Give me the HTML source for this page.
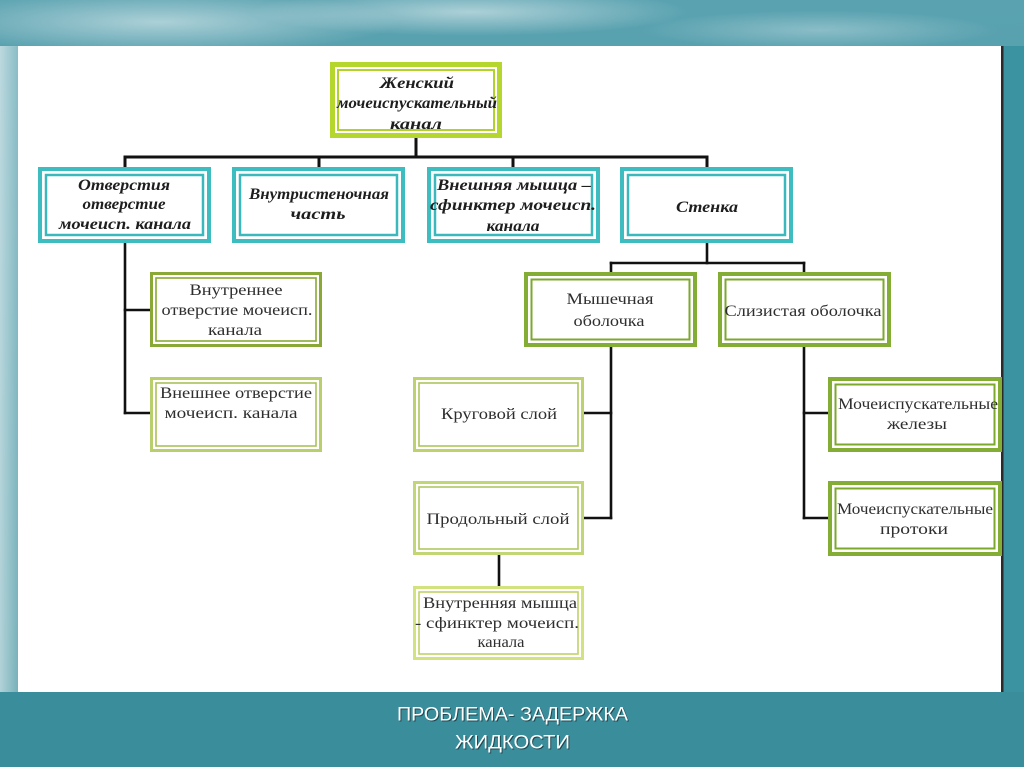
<!DOCTYPE html>
<html>
<head>
<meta charset="utf-8">
<style>
  html,body{margin:0;padding:0;background:#4a98a6;}
  svg{display:block;}
  .it{font-family:"Liberation Serif","DejaVu Serif",serif;font-style:italic;font-weight:bold;font-size:15.5px;fill:#1e1e1e;}
  .rg{font-family:"Liberation Serif","DejaVu Serif",serif;font-size:16px;fill:#2e2e2e;}
  .bt{font-family:"Liberation Sans","DejaVu Sans",sans-serif;font-size:19px;}
</style>
</head>
<body>
<svg width="1024" height="767" viewBox="0 0 1024 767" xmlns="http://www.w3.org/2000/svg">
  <defs>
    <linearGradient id="bg" x1="0" y1="0" x2="0" y2="1">
      <stop offset="0" stop-color="#5aa2b0"/>
      <stop offset="0.5" stop-color="#4a98a6"/>
      <stop offset="1" stop-color="#3a8d9b"/>
    </linearGradient>
    <linearGradient id="lft" x1="0" y1="0" x2="1" y2="0">
      <stop offset="0" stop-color="#ffffff" stop-opacity="0.6"/>
      <stop offset="1" stop-color="#ffffff" stop-opacity="0.3"/>
    </linearGradient>
    <radialGradient id="cl" cx="0.5" cy="0.5" r="0.5">
      <stop offset="0" stop-color="#ffffff" stop-opacity="0.5"/>
      <stop offset="1" stop-color="#ffffff" stop-opacity="0"/>
    </radialGradient>
  </defs>

  <!-- background -->
  <rect x="0" y="0" width="1024" height="767" fill="url(#bg)"/>
  <ellipse cx="160" cy="22" rx="240" ry="32" fill="url(#cl)"/>
  <ellipse cx="470" cy="12" rx="220" ry="24" fill="url(#cl)"/>
  <ellipse cx="820" cy="30" rx="180" ry="20" fill="url(#cl)" opacity="0.6"/>
  <rect x="0" y="46" width="18" height="646" fill="url(#lft)"/>
  <rect x="1003" y="46" width="21" height="646" fill="#3b92a0"/>
  <rect x="0" y="692" width="1024" height="75" fill="#3a8e9c"/>

  <!-- white panel -->
  <rect x="18" y="46" width="985" height="646" fill="#ffffff"/>
  <rect x="1001" y="46" width="2.5" height="646" fill="#2a2a2a"/>

  <!-- connectors -->
  <g stroke="#111" stroke-width="3" fill="none" stroke-linecap="square">
    <line x1="416" y1="138" x2="416" y2="157"/>
    <line x1="125" y1="157" x2="707" y2="157"/>
    <line x1="125" y1="157" x2="125" y2="167"/>
    <line x1="319" y1="157" x2="319" y2="167"/>
    <line x1="513" y1="157" x2="513" y2="167"/>
    <line x1="707" y1="157" x2="707" y2="167"/>
  </g>
  <g stroke="#111" stroke-width="2.6" fill="none" stroke-linecap="square">
    <line x1="125" y1="243" x2="125" y2="413"/>
    <line x1="125" y1="310" x2="150" y2="310"/>
    <line x1="125" y1="413" x2="150" y2="413"/>

    <line x1="707" y1="243" x2="707" y2="263"/>
    <line x1="611" y1="263" x2="804" y2="263"/>
    <line x1="611" y1="263" x2="611" y2="272"/>
    <line x1="804" y1="263" x2="804" y2="272"/>

    <line x1="611" y1="347" x2="611" y2="518"/>
    <line x1="584" y1="413" x2="611" y2="413"/>
    <line x1="584" y1="518" x2="611" y2="518"/>

    <line x1="804" y1="347" x2="804" y2="518"/>
    <line x1="804" y1="413" x2="828" y2="413"/>
    <line x1="804" y1="518" x2="828" y2="518"/>

    <line x1="499" y1="555" x2="499" y2="586"/>
  </g>

  <!-- root box -->
  <rect x="332.5" y="64.5" width="167" height="71" fill="#fff" stroke="#b5d62c" stroke-width="5"/>
  <rect x="338" y="70" width="156" height="60" fill="none" stroke="#b0d22a" stroke-width="2"/>

  <!-- level 1 teal boxes -->
  <g fill="#fff">
    <rect x="40" y="169" width="169" height="72" stroke="#3dbdc0" stroke-width="4"/>
    <rect x="46" y="175" width="157" height="60" fill="none" stroke="#3ab8bb" stroke-width="2.5"/>

    <rect x="234" y="169" width="169" height="72" stroke="#3dbdc0" stroke-width="4"/>
    <rect x="240" y="175" width="157" height="60" fill="none" stroke="#3ab8bb" stroke-width="2.5"/>

    <rect x="429" y="169" width="169" height="72" stroke="#3dbdc0" stroke-width="4"/>
    <rect x="435" y="175" width="157" height="60" fill="none" stroke="#3ab8bb" stroke-width="2.5"/>

    <rect x="622" y="169" width="169" height="72" stroke="#3dbdc0" stroke-width="4"/>
    <rect x="628" y="175" width="157" height="60" fill="none" stroke="#3ab8bb" stroke-width="2.5"/>
  </g>

  <!-- green boxes (darker) -->
  <g fill="#fff">
    <rect x="526" y="274" width="169" height="71" stroke="#84ad36" stroke-width="4"/>
    <rect x="531.5" y="279.5" width="158" height="60" fill="none" stroke="#7ca82c" stroke-width="2"/>

    <rect x="720" y="274" width="169" height="71" stroke="#84ad36" stroke-width="4"/>
    <rect x="725.5" y="279.5" width="158" height="60" fill="none" stroke="#7ca82c" stroke-width="2"/>

    <rect x="830" y="379" width="170" height="71" stroke="#84ad36" stroke-width="4"/>
    <rect x="835.5" y="384.5" width="159" height="60" fill="none" stroke="#7ca82c" stroke-width="2"/>

    <rect x="830" y="483" width="170" height="71" stroke="#84ad36" stroke-width="4"/>
    <rect x="835.5" y="488.5" width="159" height="60" fill="none" stroke="#7ca82c" stroke-width="2"/>
  </g>

  <!-- lighter green boxes -->
  <g fill="#fff">
    <rect x="151.5" y="273.5" width="169" height="72" stroke="#8aa836" stroke-width="3"/>
    <rect x="156" y="278" width="160" height="63" fill="none" stroke="#88a834" stroke-width="1.6"/>

    <rect x="151.5" y="378.5" width="169" height="72" stroke="#b9cf6e" stroke-width="3"/>
    <rect x="156" y="383" width="160" height="63" fill="none" stroke="#a9c25a" stroke-width="1.6"/>

    <rect x="414.5" y="378.5" width="168" height="72" stroke="#bdd26e" stroke-width="3"/>
    <rect x="419" y="383" width="159" height="63" fill="none" stroke="#adc65c" stroke-width="1.6"/>

    <rect x="414.5" y="482.5" width="168" height="71" stroke="#c3d676" stroke-width="3"/>
    <rect x="419" y="487" width="159" height="62" fill="none" stroke="#b0c860" stroke-width="1.6"/>

    <rect x="414.5" y="587.5" width="168" height="71" stroke="#d2e27e" stroke-width="3"/>
    <rect x="419" y="592" width="159" height="62" fill="none" stroke="#bfd468" stroke-width="1.6"/>
  </g>

  <!-- root text -->
  <g class="it" text-anchor="middle">
    <text x="417" y="88" textLength="74" lengthAdjust="spacingAndGlyphs">Женский</text>
    <text x="417" y="108" textLength="160" lengthAdjust="spacingAndGlyphs">мочеиспускательный</text>
    <text x="416" y="129" textLength="52" lengthAdjust="spacingAndGlyphs">канал</text>
  </g>

  <!-- level 1 text -->
  <g class="it" text-anchor="middle">
    <text x="124" y="190" textLength="92" lengthAdjust="spacingAndGlyphs">Отверстия</text>
    <text x="124" y="209" textLength="83" lengthAdjust="spacingAndGlyphs">отверстие</text>
    <text x="125" y="229" textLength="132" lengthAdjust="spacingAndGlyphs">мочеисп. канала</text>

    <text x="319" y="199" textLength="140" lengthAdjust="spacingAndGlyphs">Внутристеночная</text>
    <text x="318" y="219" textLength="55" lengthAdjust="spacingAndGlyphs">часть</text>

    <text x="514" y="190" textLength="154" lengthAdjust="spacingAndGlyphs">Внешняя мышца –</text>
    <text x="513" y="210" textLength="166" lengthAdjust="spacingAndGlyphs">сфинктер мочеисп.</text>
    <text x="513" y="231" textLength="53" lengthAdjust="spacingAndGlyphs">канала</text>

    <text x="707" y="212" textLength="62" lengthAdjust="spacingAndGlyphs">Стенка</text>
  </g>

  <!-- level 2/3 text -->
  <g class="rg" text-anchor="middle">
    <text x="236" y="295" textLength="93" lengthAdjust="spacingAndGlyphs">Внутреннее</text>
    <text x="237" y="315" textLength="151" lengthAdjust="spacingAndGlyphs">отверстие мочеисп.</text>
    <text x="235" y="335" textLength="54" lengthAdjust="spacingAndGlyphs">канала</text>

    <text x="236" y="398" textLength="152" lengthAdjust="spacingAndGlyphs">Внешнее отверстие</text>
    <text x="231" y="418" textLength="133" lengthAdjust="spacingAndGlyphs">мочеисп. канала</text>

    <text x="610" y="304" textLength="87" lengthAdjust="spacingAndGlyphs">Мышечная</text>
    <text x="609" y="326" textLength="71" lengthAdjust="spacingAndGlyphs">оболочка</text>

    <text x="803" y="316" textLength="157" lengthAdjust="spacingAndGlyphs">Слизистая оболочка</text>

    <text x="499" y="419" textLength="116" lengthAdjust="spacingAndGlyphs">Круговой слой</text>

    <text x="918" y="409" textLength="160" lengthAdjust="spacingAndGlyphs">Мочеиспускательные</text>
    <text x="917" y="429" textLength="60" lengthAdjust="spacingAndGlyphs">железы</text>

    <text x="498" y="524" textLength="143" lengthAdjust="spacingAndGlyphs">Продольный слой</text>

    <text x="915" y="514" textLength="156" lengthAdjust="spacingAndGlyphs">Мочеиспускательные</text>
    <text x="914" y="534" textLength="68" lengthAdjust="spacingAndGlyphs">протоки</text>

    <text x="500" y="608" textLength="154" lengthAdjust="spacingAndGlyphs">Внутренняя мышца</text>
    <text x="497" y="628" textLength="164" lengthAdjust="spacingAndGlyphs">- сфинктер мочеисп.</text>
    <text x="501" y="647" textLength="47" lengthAdjust="spacingAndGlyphs">канала</text>
  </g>

  <!-- bottom caption -->
  <g class="bt" text-anchor="middle">
    <text x="513.5" y="721.5" textLength="231" lengthAdjust="spacingAndGlyphs" fill="#12333a" opacity="0.75">ПРОБЛЕМА- ЗАДЕРЖКА</text>
    <text x="513.5" y="749.5" textLength="115" lengthAdjust="spacingAndGlyphs" fill="#12333a" opacity="0.75">ЖИДКОСТИ</text>
    <text x="512.5" y="720.5" textLength="231" lengthAdjust="spacingAndGlyphs" fill="#ffffff">ПРОБЛЕМА- ЗАДЕРЖКА</text>
    <text x="512.5" y="748.5" textLength="115" lengthAdjust="spacingAndGlyphs" fill="#ffffff">ЖИДКОСТИ</text>
  </g>
</svg>
</body>
</html>
